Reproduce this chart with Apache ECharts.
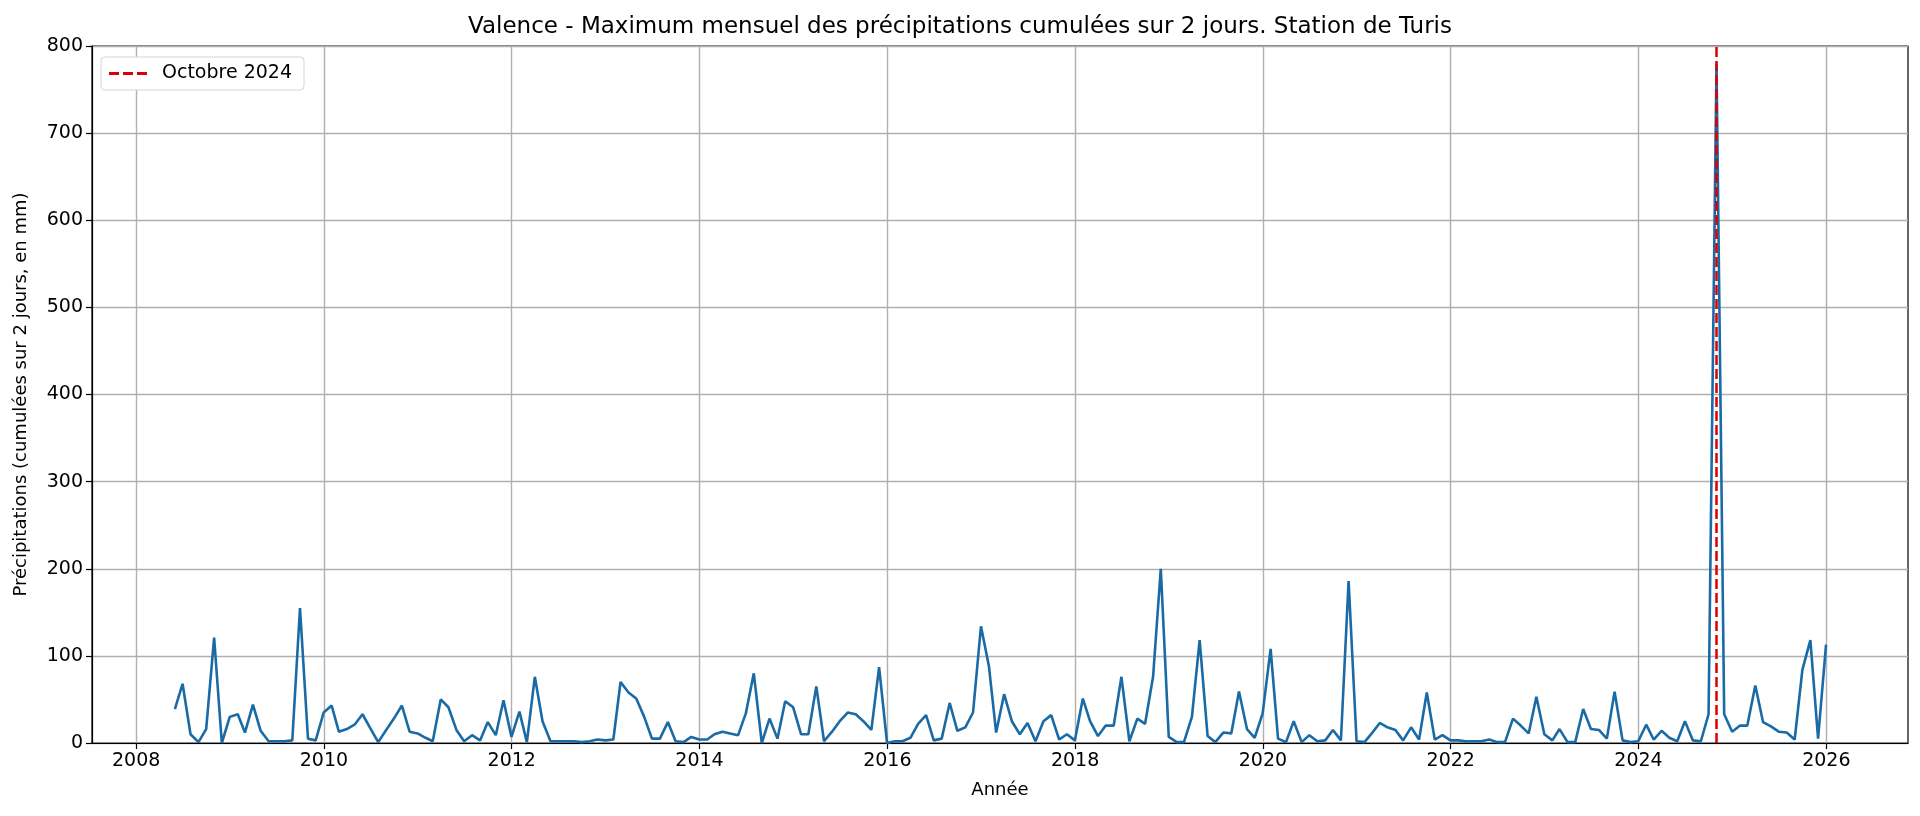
<!DOCTYPE html>
<html>
<head>
<meta charset="utf-8">
<title>Valence - Station de Turis</title>
<script src="https://cdn.jsdelivr.net/npm/echarts@6/dist/echarts.min.js"></script>
<style>
    html, body { margin: 0; padding: 0; background: #fff; }
    #main { width: 1920px; height: 816px; }
</style>
</head>
<body>
<div id="main"></div>
<script>
// first month of the series (month-end dates, May 2008 -> Dec 2025)
const startYear = 2008;
const startMonth = 5;

// monthly max of 2-day cumulated rain (mm)
const precip = [
    39, 68, 10, 1, 16, 121, 0, 30,                 // 2008 (May-Dec)
    33, 12, 44, 14, 2, 2, 2, 3, 155, 5, 3, 35,     // 2009
    43, 13, 16, 21, 33, 17, 1, 15, 28, 43, 13, 11, // 2010
    6, 2, 50, 41, 15, 2, 9, 3, 24, 9, 49, 7,       // 2011
    36, 1, 76, 25, 2, 2, 2, 2, 1, 2, 4, 3,         // 2012
    4, 70, 58, 51, 30, 5, 5, 24, 2, 1, 7, 4,       // 2013
    4, 10, 13, 11, 9, 34, 80, 0, 28, 5, 48, 41,    // 2014
    10, 10, 65, 2, 13, 25, 35, 33, 25, 15, 87, 0,  // 2015
    2, 2, 6, 22, 32, 3, 5, 46, 14, 18, 35, 134,    // 2016
    88, 12, 56, 25, 10, 23, 2, 25, 32, 4, 10, 3,   // 2017
    51, 25, 8, 20, 20, 76, 2, 28, 22, 76, 200, 7,  // 2018
    1, 1, 30, 118, 8, 1, 12, 11, 59, 16, 6, 34,    // 2019
    108, 5, 1, 25, 1, 9, 2, 3, 15, 3, 186, 2,      // 2020
    1, 11, 23, 18, 15, 3, 18, 4, 58, 4, 9, 3,      // 2021
    3, 2, 2, 2, 4, 1, 1, 28, 20, 11, 53, 10,       // 2022
    3, 16, 1, 1, 39, 16, 15, 5, 59, 3, 1, 2,       // 2023
    21, 4, 14, 6, 2, 25, 3, 2, 33, 780, 33, 13,    // 2024
    20, 20, 66, 24, 19, 13, 12, 4, 84, 118, 5, 113 // 2025
];

const yearTicks = [2008, 2010, 2012, 2014, 2016, 2018, 2020, 2022, 2024, 2026];
const eventYear = 2024;
const eventMonth = 10;

// month-end date -> fractional year
function monthEndToYear(y, m) {
    const d = new Date(Date.UTC(y, m, 0));
    const y0 = Date.UTC(d.getUTCFullYear(), 0, 1);
    const y1 = Date.UTC(d.getUTCFullYear() + 1, 0, 1);
    return d.getUTCFullYear() + (d.getTime() - y0) / (y1 - y0);
}

const seriesData = precip.map(function (v, i) {
    const m = startMonth - 1 + i;
    return [monthEndToYear(startYear + Math.floor(m / 12), (m % 12) + 1), v];
});
const eventX = monthEndToYear(eventYear, eventMonth);

const fontFam = 'DejaVu Sans';
// dashed legend sample, like matplotlib's '--'
const dashIcon = 'path://M0 0H10V3H0Z M14 0H24V3H14Z M28 0H38V3H28Z';
const red = '#dc0000';

const chart = echarts.init(document.getElementById('main'), null, { renderer: 'canvas' });

const option = {
    animation: false,
    backgroundColor: '#ffffff',
    title: {
        text: 'Valence - Maximum mensuel des précipitations cumulées sur 2 jours. Station de Turis',
        left: 'center',
        top: 11,
        padding: [5, 0, 5, 80],
        textStyle: { fontFamily: fontFam, fontSize: 23, fontWeight: 'normal', color: '#000' }
    },
    legend: {
        left: 101,
        top: 57,
        orient: 'vertical',
        padding: [7, 12, 7, 8],
        itemWidth: 38,
        itemHeight: 3,
        borderColor: '#d5d5d5',
        borderWidth: 1,
        borderRadius: 4,
        backgroundColor: '#fff',
        textStyle: { fontFamily: fontFam, fontSize: 19, color: '#000', padding: [0, 0, 0, 10] },
        data: [{ name: 'Octobre 2024', icon: dashIcon, itemStyle: { color: red } }]
    },
    grid: {
        left: 92,
        right: 12,
        top: 46,
        bottom: 73,
        show: true,
        borderColor: '#000',
        borderWidth: 1.2
    },
    xAxis: {
        type: 'value',
        min: 2007.53,
        max: 2026.87,
        name: 'Année',
        nameLocation: 'middle',
        nameGap: 38,
        nameTextStyle: { fontFamily: fontFam, fontSize: 18, color: '#000' },
        axisLine: { show: true, onZero: false, lineStyle: { color: '#000', width: 1.2 } },
        axisTick: {
            show: true,
            length: 6,
            lineStyle: { color: '#000', width: 1.2 },
            customValues: yearTicks
        },
        axisLabel: {
            margin: 9,
            fontFamily: fontFam,
            fontSize: 19,
            color: '#000',
            customValues: yearTicks,
            formatter: function (v) { return String(v); }
        },
        splitLine: { show: true, lineStyle: { color: '#b0b0b0', width: 1.4 } }
    },
    yAxis: {
        type: 'value',
        min: 0,
        max: 800,
        interval: 100,
        name: 'Précipitations (cumulées sur 2 jours, en mm)',
        nameLocation: 'middle',
        nameRotate: 90,
        nameGap: 62,
        nameTextStyle: { fontFamily: fontFam, fontSize: 18, color: '#000' },
        axisLine: { show: true, lineStyle: { color: '#000', width: 1.2 } },
        axisTick: { show: true, length: 6, lineStyle: { color: '#000', width: 1.2 } },
        axisLabel: { margin: 9, fontFamily: fontFam, fontSize: 19, color: '#000' },
        splitLine: { show: true, lineStyle: { color: '#b0b0b0', width: 1.4 } }
    },
    series: [
        {
            name: 'Précipitations',
            type: 'line',
            data: seriesData,
            showSymbol: false,
            symbol: 'none',
            lineStyle: { color: '#1a6aa6', width: 2.6 },
            itemStyle: { color: '#1a6aa6' },
            z: 2
        },
        {
            name: 'Octobre 2024',
            type: 'line',
            data: [],
            symbol: 'none',
            lineStyle: { color: red, width: 2.5, type: [10, 4] },
            itemStyle: { color: red },
            markLine: {
                silent: true,
                symbol: ['none', 'none'],
                label: { show: false },
                lineStyle: { color: red, width: 2.5, type: [10, 4] },
                data: [{ xAxis: eventX }]
            },
            z: 3
        }
    ]
};

chart.setOption(option);
</script>
</body>
</html>
